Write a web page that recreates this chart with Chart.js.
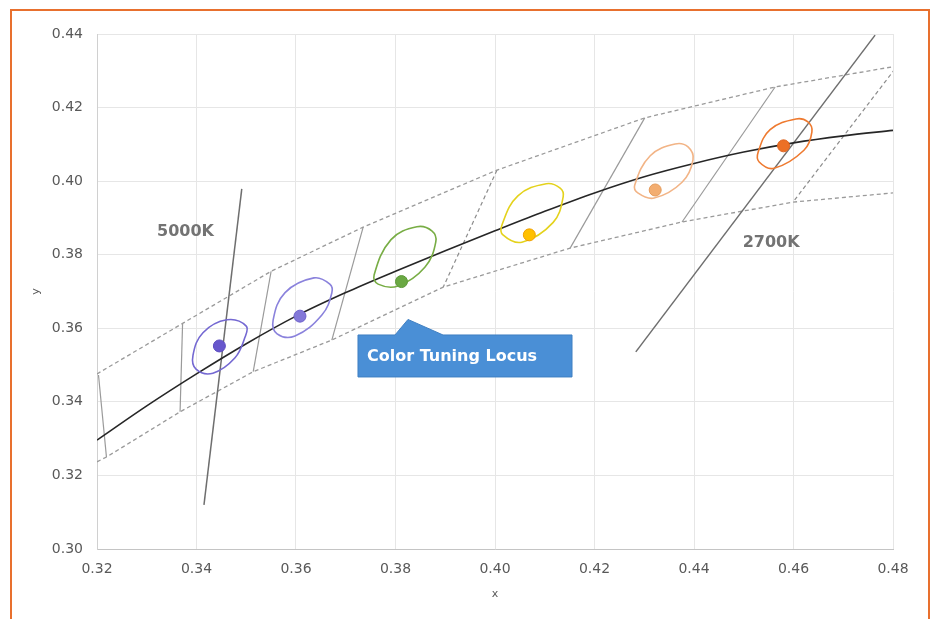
<!DOCTYPE html>
<html>
<head>
<meta charset="utf-8">
<script src="https://cdn.jsdelivr.net/npm/chart.js@4.4.1/dist/chart.umd.min.js"></script>
<style>
  body { margin: 0; background: #fff; }
  #wrap { position: relative; width: 933px; height: 619px; overflow: hidden; }
  #frame { position: absolute; left: 10px; top: 9px; width: 920px; height: 700px;
           box-sizing: border-box; border: 2px solid #e8702e; pointer-events: none; }
  canvas { position: absolute; left: 0; top: 0; }
</style>
</head>
<body>
<div id="wrap">
  <canvas id="cctChart" width="933" height="619"></canvas>
  <div id="frame"></div>
</div>
<script>
// tick labels
const xTickValues = [0.32, 0.34, 0.36, 0.38, 0.40, 0.42, 0.44, 0.46, 0.48];
const yTickValues = [0.30, 0.32, 0.34, 0.36, 0.38, 0.40, 0.42, 0.44];

// color tuning locus (black curve)
const locusX = [0.32, 0.33, 0.34, 0.35, 0.36, 0.37, 0.38, 0.39, 0.40, 0.41, 0.42, 0.43, 0.44, 0.45, 0.46, 0.47, 0.48];
const locusY = [0.3296, 0.3389, 0.3476, 0.3558, 0.3633, 0.3697, 0.3755, 0.3811, 0.3865, 0.3918, 0.3968, 0.4012, 0.4048, 0.4079, 0.4104, 0.4123, 0.4138];

// quadrangle outer borders (dashed)
const upperX = [0.32, 0.3373, 0.3550, 0.3735, 0.4004, 0.4301, 0.4563, 0.48];
const upperY = [0.3476, 0.3614, 0.3755, 0.3875, 0.4030, 0.4172, 0.4256, 0.4311];
const lowerX = [0.32, 0.3219, 0.3367, 0.3514, 0.3672, 0.3896, 0.4151, 0.4376, 0.4599, 0.48];
const lowerY = [0.3237, 0.3250, 0.3373, 0.3482, 0.3568, 0.3712, 0.3818, 0.3889, 0.3943, 0.3968];

// quadrangle side edges (top end -> bottom end)
const edgeTopX = [0.3203, 0.3372, 0.3550, 0.3735, 0.4004, 0.4301, 0.4563, 0.4804];
const edgeTopY = [0.3473, 0.3612, 0.3755, 0.3875, 0.4030, 0.4172, 0.4256, 0.4305];
const edgeBottomX = [0.3219, 0.3367, 0.3514, 0.3672, 0.3896, 0.4151, 0.4376, 0.4599];
const edgeBottomY = [0.3250, 0.3373, 0.3482, 0.3568, 0.3712, 0.3818, 0.3889, 0.3943];

// isotherm lines
const iso5000X = [0.3491, 0.3415];
const iso5000Y = [0.3979, 0.3120];
const iso2700X = [0.4764, 0.4283];
const iso2700Y = [0.4397, 0.3536];

// ellipse outlines
const ellipseXs = [
  [0.3500, 0.3461, 0.3413, 0.3393, 0.3399, 0.3433, 0.3477, 0.3497],
  [0.3668, 0.3636, 0.3578, 0.3554, 0.3562, 0.3598, 0.3652, 0.3672],
  [0.3873, 0.3843, 0.3791, 0.3757, 0.3765, 0.3805, 0.3859, 0.3881],
  [0.4131, 0.4103, 0.4046, 0.4014, 0.4016, 0.4054, 0.4117, 0.4137],
  [0.4388, 0.4362, 0.4312, 0.4281, 0.4287, 0.4320, 0.4376, 0.4398],
  [0.4629, 0.4605, 0.4553, 0.4529, 0.4531, 0.4561, 0.4621, 0.4637]
];
const ellipseYs = [
  [0.3606, 0.3623, 0.3588, 0.3527, 0.3489, 0.3478, 0.3519, 0.3574],
  [0.3720, 0.3737, 0.3697, 0.3622, 0.3585, 0.3579, 0.3636, 0.3696],
  [0.3865, 0.3876, 0.3841, 0.3745, 0.3720, 0.3715, 0.3766, 0.3835],
  [0.3981, 0.3993, 0.3960, 0.3881, 0.3854, 0.3834, 0.3888, 0.3957],
  [0.4093, 0.4101, 0.4069, 0.3990, 0.3968, 0.3954, 0.3997, 0.4058],
  [0.4161, 0.4169, 0.4140, 0.4079, 0.4052, 0.4035, 0.4084, 0.4134]
];

// target points
const dotX = [0.3446, 0.3608, 0.3812, 0.4069, 0.4322, 0.4580];
const dotY = [0.3552, 0.3633, 0.3727, 0.3854, 0.3976, 0.4096];

// styles
const ellipseColors = ['#7468d2', '#8a82dc', '#78ad45', '#e4d21c', '#f2b486', '#ee7a30'];
const dotColors = ['#6757cc', '#8378d8', '#6aa843', '#ffc000', '#f3ad70', '#ec7025'];
const dotBorders = ['#5b4bc0', '#6f63cc', '#5d9a3a', '#f0a000', '#e49a5a', '#dd6420'];
const edgeDashed = [false, false, false, false, true, false, false, true];

function pts(xs, ys) {
  return xs.map((x, i) => ({ x: x, y: ys[i] }));
}

const datasets = [];

datasets.push({
  data: pts(dotX, dotY),
  showLine: false,
  pointRadius: 6,
  pointBackgroundColor: dotColors,
  pointBorderColor: dotBorders,
  pointBorderWidth: 1
});

ellipseXs.forEach((xs, i) => {
  datasets.push({
    data: pts(xs, ellipseYs[i]),
    closed: true,
    showLine: true,
    tension: 0.4,
    borderColor: ellipseColors[i],
    borderWidth: 1.6,
    pointRadius: 0
  });
});

datasets.push({
  data: pts(locusX, locusY),
  showLine: true,
  cubicInterpolationMode: 'monotone',
  borderColor: '#262626',
  borderWidth: 1.6,
  pointRadius: 0
});

[[iso5000X, iso5000Y], [iso2700X, iso2700Y]].forEach(l => {
  datasets.push({
    data: pts(l[0], l[1]),
    showLine: true,
    borderColor: '#6e6e6e',
    borderWidth: 1.5,
    pointRadius: 0
  });
});

[[upperX, upperY], [lowerX, lowerY]].forEach(l => {
  datasets.push({
    data: pts(l[0], l[1]),
    showLine: true,
    borderColor: '#9a9a9a',
    borderWidth: 1.3,
    borderDash: [4, 3],
    pointRadius: 0
  });
});

edgeTopX.forEach((x, i) => {
  datasets.push({
    data: [{ x: x, y: edgeTopY[i] }, { x: edgeBottomX[i], y: edgeBottomY[i] }],
    showLine: true,
    borderColor: edgeDashed[i] ? '#8c8c8c' : '#9a9a9a',
    borderWidth: 1.2,
    borderDash: edgeDashed[i] ? [4, 3] : [],
    pointRadius: 0
  });
});

// close the ellipse lines into smooth loops (same as radar lines)
const closedLines = {
  id: 'closedLines',
  afterDatasetUpdate(chart, args) {
    const ds = chart.data.datasets[args.index];
    const line = args.meta.dataset;
    if (ds.closed && line) {
      line._loop = true;
      line._fullLoop = true;
      line._pointsUpdated = false;
      delete line._segments;
      delete line._path;
    }
  }
};

// text labels and callout, placed through the scales
const annotations = {
  id: 'annotations',
  afterDatasetsDraw(chart) {
    const ctx = chart.ctx;
    const xs = chart.scales.x, ys = chart.scales.y;
    const px = v => xs.getPixelForValue(v);
    const py = v => ys.getPixelForValue(v);

    ctx.save();
    ctx.font = 'bold 16px "DejaVu Sans"';
    ctx.fillStyle = '#737373';
    ctx.textAlign = 'center';
    ctx.textBaseline = 'middle';
    ctx.fillText('5000K', px(0.3378), py(0.3862));
    ctx.fillText('2700K', px(0.4555), py(0.3832));

    const c = { left: 0.37246, right: 0.41548, top: 0.35818, bottom: 0.34677,
                tipX: 0.38251, tipY: 0.3624, baseL: 0.3799, baseR: 0.38955 };
    ctx.beginPath();
    ctx.moveTo(px(c.left), py(c.top));
    ctx.lineTo(px(c.baseL), py(c.top));
    ctx.lineTo(px(c.tipX), py(c.tipY));
    ctx.lineTo(px(c.baseR), py(c.top));
    ctx.lineTo(px(c.right), py(c.top));
    ctx.lineTo(px(c.right), py(c.bottom));
    ctx.lineTo(px(c.left), py(c.bottom));
    ctx.closePath();
    ctx.fillStyle = '#4a8fd6';
    ctx.fill();
    ctx.strokeStyle = '#3f7fc2';
    ctx.lineWidth = 1;
    ctx.stroke();

    ctx.fillStyle = '#ffffff';
    ctx.textAlign = 'left';
    ctx.fillText('Color Tuning Locus', px(c.left) + 9, (py(c.top) + py(c.bottom)) / 2 + 1);
    ctx.restore();
  }
};

const tickFont = { family: 'DejaVu Sans', size: 14 };

new Chart(document.getElementById('cctChart').getContext('2d'), {
  type: 'scatter',
  data: { datasets: datasets },
  options: {
    responsive: false,
    animation: false,
    layout: { padding: { left: 26, right: 40, top: 34, bottom: 14 } },
    plugins: { legend: { display: false }, tooltip: { enabled: false } },
    scales: {
      x: {
        type: 'linear',
        min: 0.32,
        max: 0.48,
        afterBuildTicks: s => { s.ticks = xTickValues.map(v => ({ value: v })); },
        afterFit: s => { s.height = 56; },
        ticks: { callback: v => v.toFixed(2), font: tickFont, color: '#595959', padding: 12, autoSkip: false, maxRotation: 0 },
        grid: { color: '#e6e6e6', drawTicks: false },
        border: { color: '#c4c4c4' },
        title: { display: true, text: 'x', font: { family: 'DejaVu Sans', size: 11 }, color: '#595959' }
      },
      y: {
        type: 'linear',
        min: 0.30,
        max: 0.44,
        afterBuildTicks: s => { s.ticks = yTickValues.map(v => ({ value: v })); },
        afterFit: s => { s.width = 71; },
        ticks: { callback: v => v.toFixed(2), font: tickFont, color: '#595959', padding: 14, autoSkip: false },
        grid: { color: '#e6e6e6', drawTicks: false },
        border: { color: '#d0d0d0' },
        title: { display: true, text: 'y', font: { family: 'DejaVu Sans', size: 11 }, color: '#595959' }
      }
    }
  },
  plugins: [closedLines, annotations]
});
</script>
</body>
</html>
